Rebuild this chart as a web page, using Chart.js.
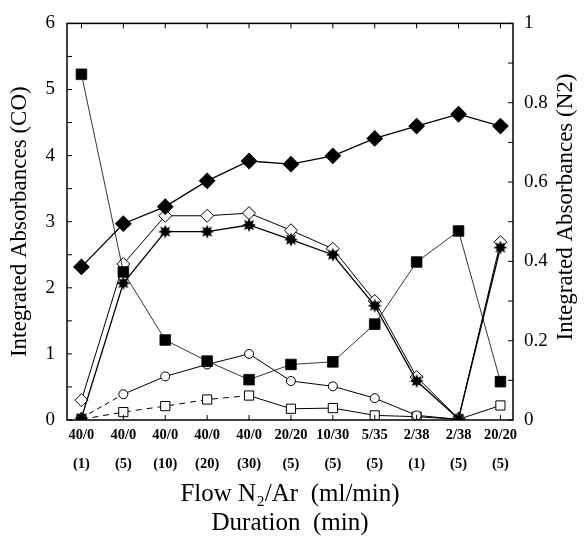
<!DOCTYPE html>
<html>
<head>
<meta charset="utf-8">
<script src="https://cdn.jsdelivr.net/npm/chart.js@4"></script>
<style>
  html, body { margin: 0; padding: 0; background: #fff; }
  #wrap { width: 584px; height: 538px; position: relative; }
</style>
</head>
<body>
<div id="wrap"><canvas id="chart"></canvas></div>
<script>
/* ── data ── */
const FLOWS     = ['40/0', '40/0', '40/0', '40/0', '40/0', '20/20', '10/30', '5/35', '2/38', '2/38', '20/20'];
const DURATIONS = ['(1)', '(5)', '(10)', '(20)', '(30)', '(5)', '(5)', '(5)', '(1)', '(5)', '(5)'];

// right axis (N2)
const N2_DIAMOND   = [0.386, 0.495, 0.538, 0.603, 0.653, 0.645, 0.666, 0.710, 0.741, 0.771, 0.741];
// left axis (CO)
const CO_SQUARE    = [5.23, 2.24, 1.21, 0.89, 0.61, 0.84, 0.88, 1.45, 2.39, 2.86, 0.58];
const CO_OPEN_DIAM = [0.30, 2.36, 3.09, 3.09, 3.13, 2.87, 2.59, 1.80, 0.65, 0.02, 2.69];
const CO_STAR      = [0.03, 2.07, 2.85, 2.85, 2.95, 2.73, 2.50, 1.73, 0.59, 0.02, 2.61];
const CO_CIRCLE    = [0.03, 0.39, 0.66, 0.84, 1.00, 0.59, 0.51, 0.33, 0.07, 0.01, null];
const CO_OPEN_SQ   = [0.01, 0.12, 0.21, 0.31, 0.37, 0.17, 0.18, 0.07, 0.05, 0.01, 0.22];

const LEFT_TICKS  = [0, 1, 2, 3, 4, 5, 6];
const RIGHT_TICKS = ['0', '0.2', '0.4', '0.6', '0.8', '1'];
const RIGHT_TITLE = 'Integrated Absorbances (N2)';

const SERIF = "'Liberation Serif', 'DejaVu Serif', serif";
Chart.defaults.font.family = SERIF;
Chart.defaults.color = '#000';

/* ── small filled star marker ── */
function makeStar(r) {
  const c = document.createElement('canvas');
  c.width = c.height = r * 2 + 2;
  const g = c.getContext('2d');
  g.translate(r + 1, r + 1);
  g.beginPath();
  const n = 8;
  for (let i = 0; i < n * 2; i++) {
    const rad = i % 2 ? r * 0.55 : r;
    const a = (Math.PI / n) * i - Math.PI / 2;
    g.lineTo(Math.cos(a) * rad, Math.sin(a) * rad);
  }
  g.closePath();
  g.fillStyle = '#000';
  g.fill();
  return c;
}
const STAR = makeStar(7);

const pts = arr => arr.map((y, i) => ({ x: i, y }));

/* ── frame, inward tick marks, right title (reads bottom-up like the left one) ── */
Chart.register({
  id: 'frame',
  afterDraw(chart) {
    const { ctx, chartArea: a, scales } = chart;
    ctx.save();
    ctx.strokeStyle = '#000';
    ctx.lineWidth = 1.5;
    ctx.strokeRect(a.left, a.top, a.right - a.left, a.bottom - a.top);
    ctx.lineWidth = 1;
    ctx.beginPath();
    for (const t of scales.y.ticks) {
      const py = scales.y.getPixelForValue(t.value);
      ctx.moveTo(a.left, py); ctx.lineTo(a.left + 5, py);
    }
    for (const t of scales.y1.ticks) {
      const py = scales.y1.getPixelForValue(t.value);
      ctx.moveTo(a.right, py); ctx.lineTo(a.right - 5, py);
    }
    for (const t of scales.x.ticks) {
      const px = scales.x.getPixelForValue(t.value);
      ctx.moveTo(px, a.bottom); ctx.lineTo(px, a.bottom - 5);
      ctx.moveTo(px, a.top); ctx.lineTo(px, a.top + 5);
    }
    ctx.stroke();

    ctx.translate(566, 207);
    ctx.rotate(-Math.PI / 2);
    ctx.font = `23px ${SERIF}`;
    ctx.fillStyle = '#000';
    ctx.textAlign = 'center';
    ctx.textBaseline = 'middle';
    ctx.fillText(RIGHT_TITLE, 0, 0);
    ctx.restore();
  },
});

const base = { borderColor: '#000', borderWidth: 1, showLine: true, tension: 0, spanGaps: false };

new Chart(document.getElementById('chart'), {
  type: 'scatter',
  data: {
    datasets: [
      { ...base, label: 'N2', data: pts(N2_DIAMOND), yAxisID: 'y1',
        pointStyle: 'rectRot', pointRadius: 7.5, backgroundColor: '#000', borderWidth: 1.3, order: 1 },
      { ...base, label: 'CO square', data: pts(CO_SQUARE), yAxisID: 'y',
        pointStyle: 'rect', pointRadius: 7.5, backgroundColor: '#000', borderWidth: 0.8, order: 0 },
      { ...base, label: 'CO open diamond', data: pts(CO_OPEN_DIAM), yAxisID: 'y',
        pointStyle: 'rectRot', pointRadius: 6.5, backgroundColor: '#fff', order: 3 },
      { ...base, label: 'CO star', data: pts(CO_STAR), yAxisID: 'y',
        pointStyle: STAR, backgroundColor: '#000', borderWidth: 1.3, order: 2 },
      { ...base, label: 'CO circle', data: pts(CO_CIRCLE), yAxisID: 'y',
        pointStyle: 'circle', pointRadius: 4.5, backgroundColor: '#fff', order: 4,
        segment: { borderDash: c => c.p0DataIndex < 1 ? [5, 4] : undefined } },
      { ...base, label: 'CO open square', data: pts(CO_OPEN_SQ), yAxisID: 'y',
        pointStyle: 'rect', pointRadius: 6.5, backgroundColor: '#fff', order: 5,
        segment: { borderDash: c => c.p0DataIndex < 4 ? [6, 5] : undefined } },
    ],
  },
  options: {
    animation: false,
    responsive: true,
    maintainAspectRatio: false,
    layout: { padding: { top: 19, left: 0, right: 0, bottom: 0 } },
    plugins: { legend: { display: false }, tooltip: { enabled: false } },
    scales: {
      x: {
        type: 'linear', position: 'bottom', min: -0.345, max: 10.3,
        afterBuildTicks: s => { s.ticks = FLOWS.map((_, i) => ({ value: i })); },
        afterFit: s => { s.height = 118; },
        grid: { display: false, drawTicks: false },
        border: { display: false },
        ticks: {
          autoSkip: false, maxRotation: 0, padding: 0,
          font: { size: 14.5, weight: 'bold', lineHeight: 2.05 },
          callback: v => [FLOWS[v], DURATIONS[v]],
        },
        title: {
          display: true, text: ['Flow N\u2082/Ar  (ml/min)', 'Duration  (min)'],
          font: { size: 25, lineHeight: 1.15 }, padding: { top: 4, bottom: 0 },
        },
      },
      y: {
        position: 'left', min: 0, max: 6,
        afterBuildTicks: s => { s.ticks = Array.from({ length: 13 }, (_, i) => ({ value: i * 0.5 })); },
        afterFit: s => { s.width = 67; },
        grid: { display: false, drawTicks: false },
        border: { display: false },
        ticks: {
          padding: 12, font: { size: 19 },
          callback: v => LEFT_TICKS.includes(v) ? String(v) : '',
        },
        title: {
          display: true, text: 'Integrated Absorbances (CO)',
          font: { size: 23 }, padding: { top: 6, bottom: 0 },
        },
      },
      y1: {
        position: 'right', min: 0, max: 1,
        afterBuildTicks: s => { s.ticks = Array.from({ length: 11 }, (_, i) => ({ value: i / 10 })); },
        afterFit: s => { s.width = 71; },
        grid: { display: false, drawTicks: false },
        border: { display: false },
        ticks: {
          padding: 11, font: { size: 19 },
          callback: (v, i) => i % 2 === 0 ? RIGHT_TICKS[i / 2] : '',
        },
        title: { display: false },
      },
    },
  },
});
</script>
</body>
</html>
